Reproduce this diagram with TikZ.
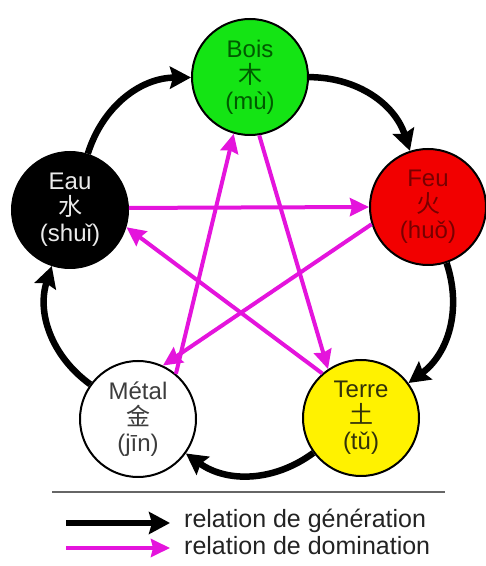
\documentclass[tikz,border=0pt]{standalone}
\usepackage{fontspec}
\setmainfont{Liberation Sans}
\newfontfamily\cjk{Noto Sans CJK SC}
\usetikzlibrary{arrows.meta}
\definecolor{boisfill}{RGB}{20,228,20}
\definecolor{boistext}{RGB}{0,90,0}
\definecolor{feufill}{RGB}{242,0,0}
\definecolor{feutext}{RGB}{120,0,0}
\definecolor{eautext}{RGB}{235,235,235}
\definecolor{terrefill}{RGB}{255,242,0}
\definecolor{terretext}{RGB}{50,50,10}
\definecolor{metaltext}{RGB}{60,60,60}
\definecolor{dommag}{RGB}{228,20,220}
\definecolor{legtext}{RGB}{35,35,35}
\begin{document}
\begin{tikzpicture}[x=1pt,y=1pt,
  elem/.style={circle, draw=black, line width=2pt, minimum size=116pt, inner sep=0pt,
    align=center, font=\fontsize{24}{26}\selectfont},
  gen/.style={draw=black, line width=6.5pt, -{Stealth[length=21pt,width=22pt,inset=3pt]}},
  dom/.style={draw=dommag, line width=4pt, -{Stealth[length=19pt,width=18pt,inset=2pt]}},
  legtxt/.style={anchor=west, text=legtext, font=\fontsize{25}{28}\selectfont, inner sep=0pt}
]
\useasboundingbox (0,0) rectangle (486,566);
% elements
\node[elem, fill=boisfill, text=boistext] (bois) at (250,489) {Bois\\{\cjk 木}\\(mù)};
\node[elem, fill=feufill, text=feutext] (feu) at (428,359) {Feu\\{\cjk 火}\\(huǒ)};
\node[elem, fill=terrefill, text=terretext] (terre) at (361,148) {Terre\\{\cjk 土}\\(tǔ)};
\node[elem, fill=white, text=metaltext] (metal) at (138,147) {Métal\\{\cjk 金}\\(jīn)};
\node[elem, fill=black, text=eautext] (eau) at (70,356) {Eau\\{\cjk 水}\\(shuǐ)};
% generation cycle
\draw[gen] (eau) to[bend left=36] (bois);
\draw[gen] (bois) to[bend left=36] (feu);
\draw[gen] (feu) to[bend left=36] (terre);
\draw[gen] (terre) to[bend left=36] (metal);
\draw[gen] (metal) to[bend left=36] (eau);
% domination star
\draw[dom] (eau.2) -- (feu.180);
\draw[dom] (terre.131) -- (eau.-17);
\draw[dom] (feu.197) -- (metal.65);
\draw[dom] (metal.50) -- (bois.254);
\draw[dom] (bois.279) -- (terre.124);
% legend
\coordinate (sepL) at (52,74);
\coordinate (sepR) at (445,74);
\draw[draw=black!60, line width=1.2pt] (sepL) -- (sepR);
\coordinate (g1) at (66,43);
\coordinate (g2) at (170,43);
\coordinate (d1) at (66,18);
\coordinate (d2) at (170,18);
\draw[gen, line width=6pt] (g1) -- (g2);
\draw[dom] (d1) -- (d2);
\node[legtxt] (lg) at (184,45) {relation de génération};
\node[legtxt] (ld) at (184,20) {relation de domination};
\end{tikzpicture}
\end{document}
